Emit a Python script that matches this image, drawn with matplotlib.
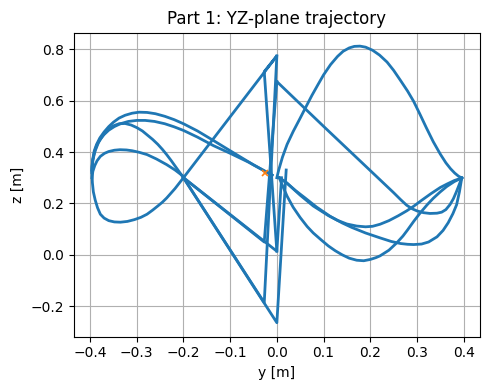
import numpy as np
import matplotlib
matplotlib.use("Agg")
import matplotlib.pyplot as plt

# key points (y, z)
C = (-0.2, 0.3)
P1 = (0.0, 0.774)
P2 = (-0.027, 0.713)
P3 = (0.0, 0.674)
P4 = (-0.027, 0.05)
P5 = (0.0, 0.014)
P6 = (-0.027, -0.186)
P7 = (0.0, -0.264)

# right lobe curves
arch_y = [0.0, 0.004, 0.012, 0.022, 0.035, 0.05, 0.063, 0.075, 0.088, 0.1, 0.115, 0.13, 0.142, 0.155, 0.166, 0.178,
          0.19, 0.205, 0.22, 0.236, 0.25, 0.265, 0.28, 0.293, 0.307, 0.32, 0.335, 0.35, 0.362, 0.372, 0.381, 0.389, 0.396]
arch_z = [0.30, 0.33, 0.38, 0.43, 0.48, 0.532, 0.578, 0.62, 0.662, 0.70, 0.74, 0.772, 0.792, 0.805, 0.811, 0.812,
          0.808, 0.796, 0.777, 0.75, 0.718, 0.678, 0.637, 0.597, 0.545, 0.495, 0.44, 0.392, 0.358, 0.335, 0.318, 0.306, 0.299]

c1_y = [0.005, 0.021, 0.05, 0.078, 0.11, 0.13, 0.15, 0.171, 0.19, 0.205, 0.221, 0.24, 0.26, 0.278, 0.293, 0.31, 0.33, 0.35, 0.365, 0.38, 0.396]
c1_z = [0.30, 0.28, 0.232, 0.19, 0.153, 0.134, 0.12, 0.112, 0.109, 0.111, 0.119, 0.133, 0.152, 0.171, 0.189, 0.212, 0.238, 0.262, 0.276, 0.289, 0.299]

c2_y = [0.005, 0.021, 0.04, 0.06, 0.085, 0.114, 0.14, 0.16, 0.19, 0.221, 0.245, 0.265, 0.28, 0.293, 0.31, 0.325, 0.343, 0.356, 0.367,
        0.377, 0.385, 0.391, 0.396]
c2_z = [0.30, 0.28, 0.25, 0.222, 0.186, 0.15, 0.124, 0.107, 0.085, 0.066, 0.052, 0.044, 0.041, 0.04, 0.042, 0.05, 0.07, 0.095, 0.125,
        0.16, 0.195, 0.245, 0.299]

c3_y = [0.005, 0.012, 0.022, 0.035, 0.05, 0.065, 0.078, 0.095, 0.11, 0.125, 0.14, 0.155, 0.171, 0.186, 0.2, 0.212, 0.221,
        0.24, 0.257, 0.27, 0.28, 0.293, 0.307, 0.322, 0.335, 0.35, 0.364, 0.38, 0.396]
c3_z = [0.30, 0.27, 0.228, 0.185, 0.145, 0.11, 0.085, 0.058, 0.035, 0.016, 0.0, -0.013, -0.021, -0.023, -0.018, -0.011, -0.004,
        0.018, 0.047, 0.073, 0.097, 0.13, 0.163, 0.195, 0.22, 0.245, 0.266, 0.285, 0.299]

c4_y = [0.0, 0.1, 0.2, 0.25, 0.265, 0.278, 0.29, 0.30, 0.314, 0.328, 0.343, 0.353, 0.362, 0.371, 0.378, 0.384, 0.389, 0.393, 0.396]
c4_z = [0.674, 0.50, 0.328, 0.242, 0.215, 0.193, 0.179, 0.171, 0.164, 0.161, 0.162, 0.166, 0.176, 0.196, 0.218, 0.243, 0.266, 0.285, 0.299]

# left lobe curves
outer_y = [-0.01, -0.05, -0.1, -0.136, -0.17, -0.2, -0.22, -0.24, -0.26, -0.278, -0.295, -0.31, -0.325, -0.338, -0.35,
           -0.36, -0.37, -0.379, -0.386, -0.391, -0.394, -0.396, -0.396]
outer_z = [0.31, 0.35, 0.405, 0.445, 0.482, 0.51, 0.526, 0.539, 0.549, 0.554, 0.555, 0.551, 0.543, 0.532, 0.516,
           0.499, 0.478, 0.455, 0.43, 0.405, 0.375, 0.345, 0.32]

second_y = [-0.01, -0.06, -0.1, -0.136, -0.17, -0.2, -0.22, -0.24, -0.262, -0.282, -0.3, -0.318, -0.335, -0.348, -0.36,
            -0.37, -0.379, -0.386, -0.391, -0.394, -0.396]
second_z = [0.31, 0.36, 0.395, 0.425, 0.458, 0.484, 0.498, 0.51, 0.519, 0.523, 0.523, 0.519, 0.51, 0.499, 0.485,
            0.468, 0.448, 0.425, 0.398, 0.37, 0.33]

third_y = [-0.396, -0.394, -0.389, -0.382, -0.372, -0.362, -0.35, -0.338, -0.325, -0.312, -0.3, -0.288, -0.278, -0.266,
           -0.255, -0.245, -0.236, -0.226, -0.215, -0.2]
third_z = [0.33, 0.37, 0.405, 0.437, 0.466, 0.487, 0.502, 0.51, 0.511, 0.505, 0.495, 0.482, 0.467, 0.449, 0.43, 0.41,
           0.39, 0.366, 0.338, 0.3]

small_y = [-0.396, -0.394, -0.39, -0.385, -0.378, -0.369, -0.36, -0.348, -0.336, -0.322, -0.31, -0.295, -0.278, -0.258,
           -0.236, -0.218, -0.2]
small_z = [0.30, 0.325, 0.347, 0.366, 0.383, 0.395, 0.402, 0.407, 0.409, 0.408, 0.405, 0.399, 0.39, 0.373, 0.351, 0.33, 0.305]

bottom_y = [-0.396, -0.395, -0.393, -0.389, -0.384, -0.378, -0.37, -0.36, -0.348, -0.335, -0.32, -0.305, -0.291, -0.278,
            -0.266, -0.255, -0.245, -0.236, -0.218, -0.2]
bottom_z = [0.32, 0.28, 0.245, 0.213, 0.183, 0.158, 0.143, 0.133, 0.128, 0.127, 0.13, 0.137, 0.146, 0.158, 0.174, 0.19,
            0.205, 0.221, 0.258, 0.3]

# straight jumps near the centre
jumps = [
    [C, P1, P2, P5],
    [C, P5, (0.01, 0.30)],
    [C, P4, P3],
    [C, P6, P1],
    [C, P7, (0.02, 0.33)],
]

start = (-0.025, 0.318)

fig, ax = plt.subplots(figsize=(4.9, 3.9), dpi=100)
col = "tab:blue"
lw = 2

for yy, zz in [(arch_y, arch_z), (c1_y, c1_z), (c2_y, c2_z), (c3_y, c3_z), (c4_y, c4_z),
               (outer_y, outer_z), (second_y, second_z), (third_y, third_z),
               (small_y, small_z), (bottom_y, bottom_z)]:
    ax.plot(yy, zz, color=col, lw=lw)

for seg in jumps:
    s = np.array(seg)
    ax.plot(s[:, 0], s[:, 1], color=col, lw=lw)

ax.plot(start[0], start[1], "x", color="tab:orange", ms=4, mew=1.2)

ax.set_xlim(-0.4355, 0.4355)
ax.set_ylim(-0.318, 0.864)
ax.set_title("Part 1: YZ-plane trajectory")
ax.set_xlabel("y [m]")
ax.set_ylabel("z [m]")
ax.grid(True)

plt.subplots_adjust(left=0.15, right=0.98, top=0.916, bottom=0.137)
plt.savefig("out.png", dpi=100)
